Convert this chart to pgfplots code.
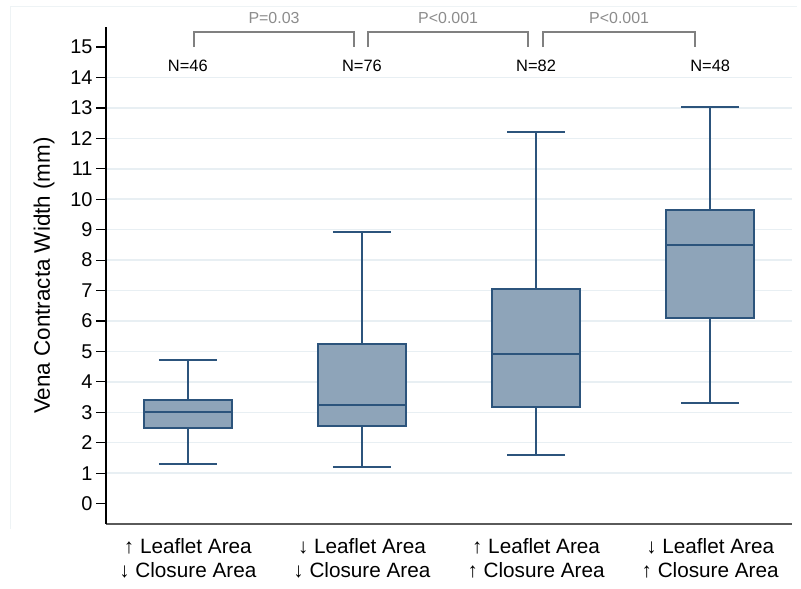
\documentclass[border=0pt]{standalone}
\usepackage{pgfplots}
\pgfplotsset{compat=1.18}
\usepgfplotslibrary{statistics}
\usepackage{fontspec}
\setmainfont{Liberation Sans}
\definecolor{boxfill}{RGB}{142,164,185}
\definecolor{boxedge}{RGB}{44,84,124}
\definecolor{gridc}{RGB}{232,239,243}
\definecolor{brk}{RGB}{128,128,128}
\definecolor{ptext}{RGB}{140,140,140}
\definecolor{frame}{RGB}{238,243,245}
\begin{document}
\begin{tikzpicture}[x=1bp,y=1bp]
\useasboundingbox (0,0) rectangle (801,589);
\draw[frame, line width=0.8bp] (10,60) -- (10,583) -- (797,583);
\begin{axis}[
  at={(106bp,65bp)}, anchor=south west,
  scale only axis, width=686bp, height=497bp,
  xmin=0.53, xmax=4.47, ymin=-0.67, ymax=15.66,
  clip=false,
  axis x line=bottom, axis y line=left,
  axis line style={-},
  x axis line style={draw={rgb,255:red,90;green,90;blue,90}, line width=1.3bp},
  y axis line style={draw=black, line width=1.3bp},
  xtick={1,2,3,4},
  xticklabels={{↑ Leaflet Area\\↓ Closure Area},{↓ Leaflet Area\\↓ Closure Area},{↑ Leaflet Area\\↑ Closure Area},{↓ Leaflet Area\\↑ Closure Area}},
  xticklabel style={align=center, font=\fontsize{20.8}{24}\selectfont, yshift=-1bp},
  x tick style={draw=none},
  ytick={0,...,15},
  minor ytick={1,...,14},
  yminorgrids=true,
  minor grid style={gridc, line width=1.5bp},
  minor tick length=0pt,
  tick align=outside,
  major tick length=10bp,
  y tick style={black, line width=1.2bp},
  yticklabel style={font=\fontsize{20}{22}\selectfont},
  /pgf/number format/assume math mode=true,
  ylabel={Vena Contracta Width (mm)},
  y label style={at={(axis description cs:-0.0904,0.5)}, anchor=center, font=\fontsize{22.5}{25}\selectfont},
  boxplot/draw direction=y,
]
\addplot[boxplot prepared={lower whisker=1.30, lower quartile=2.50, median=3.01, upper quartile=3.40, upper whisker=4.71, draw position=1, box extend=0.506, whisker extend=0.333}, draw=boxedge, fill=boxfill, line width=2bp] coordinates {};
\addplot[boxplot prepared={lower whisker=1.20, lower quartile=2.55, median=3.25, upper quartile=5.25, upper whisker=8.91, draw position=2, box extend=0.506, whisker extend=0.333}, draw=boxedge, fill=boxfill, line width=2bp] coordinates {};
\addplot[boxplot prepared={lower whisker=1.59, lower quartile=3.17, median=4.90, upper quartile=7.05, upper whisker=12.21, draw position=3, box extend=0.506, whisker extend=0.333}, draw=boxedge, fill=boxfill, line width=2bp] coordinates {};
\addplot[boxplot prepared={lower whisker=3.30, lower quartile=6.10, median=8.50, upper quartile=9.66, upper whisker=13.03, draw position=4, box extend=0.506, whisker extend=0.333}, draw=boxedge, fill=boxfill, line width=2bp] coordinates {};
% N labels
\node[font=\fontsize{16.5}{18}\selectfont] at (axis cs:1,14.38) {N=46};
\node[font=\fontsize{16.5}{18}\selectfont] at (axis cs:2,14.38) {N=76};
\node[font=\fontsize{16.5}{18}\selectfont] at (axis cs:3,14.38) {N=82};
\node[font=\fontsize{16.5}{18}\selectfont] at (axis cs:4,14.38) {N=48};
% brackets
\draw[brk, line width=2bp] (axis cs:1.035,15) -- (axis cs:1.035,15.49) -- (axis cs:1.954,15.49) -- (axis cs:1.954,15);
\draw[brk, line width=2bp] (axis cs:2.035,15) -- (axis cs:2.035,15.49) -- (axis cs:2.954,15.49) -- (axis cs:2.954,15);
\draw[brk, line width=2bp] (axis cs:3.040,15) -- (axis cs:3.040,15.49) -- (axis cs:3.914,15.49) -- (axis cs:3.914,15);
\node[ptext, font=\fontsize{16}{18}\selectfont] at (axis cs:1.495,15.96) {P=0.03};
\node[ptext, font=\fontsize{16}{18}\selectfont] at (axis cs:2.495,15.96) {P<0.001};
\node[ptext, font=\fontsize{16}{18}\selectfont] at (axis cs:3.477,15.96) {P<0.001};
\end{axis}
\end{tikzpicture}
\end{document}
